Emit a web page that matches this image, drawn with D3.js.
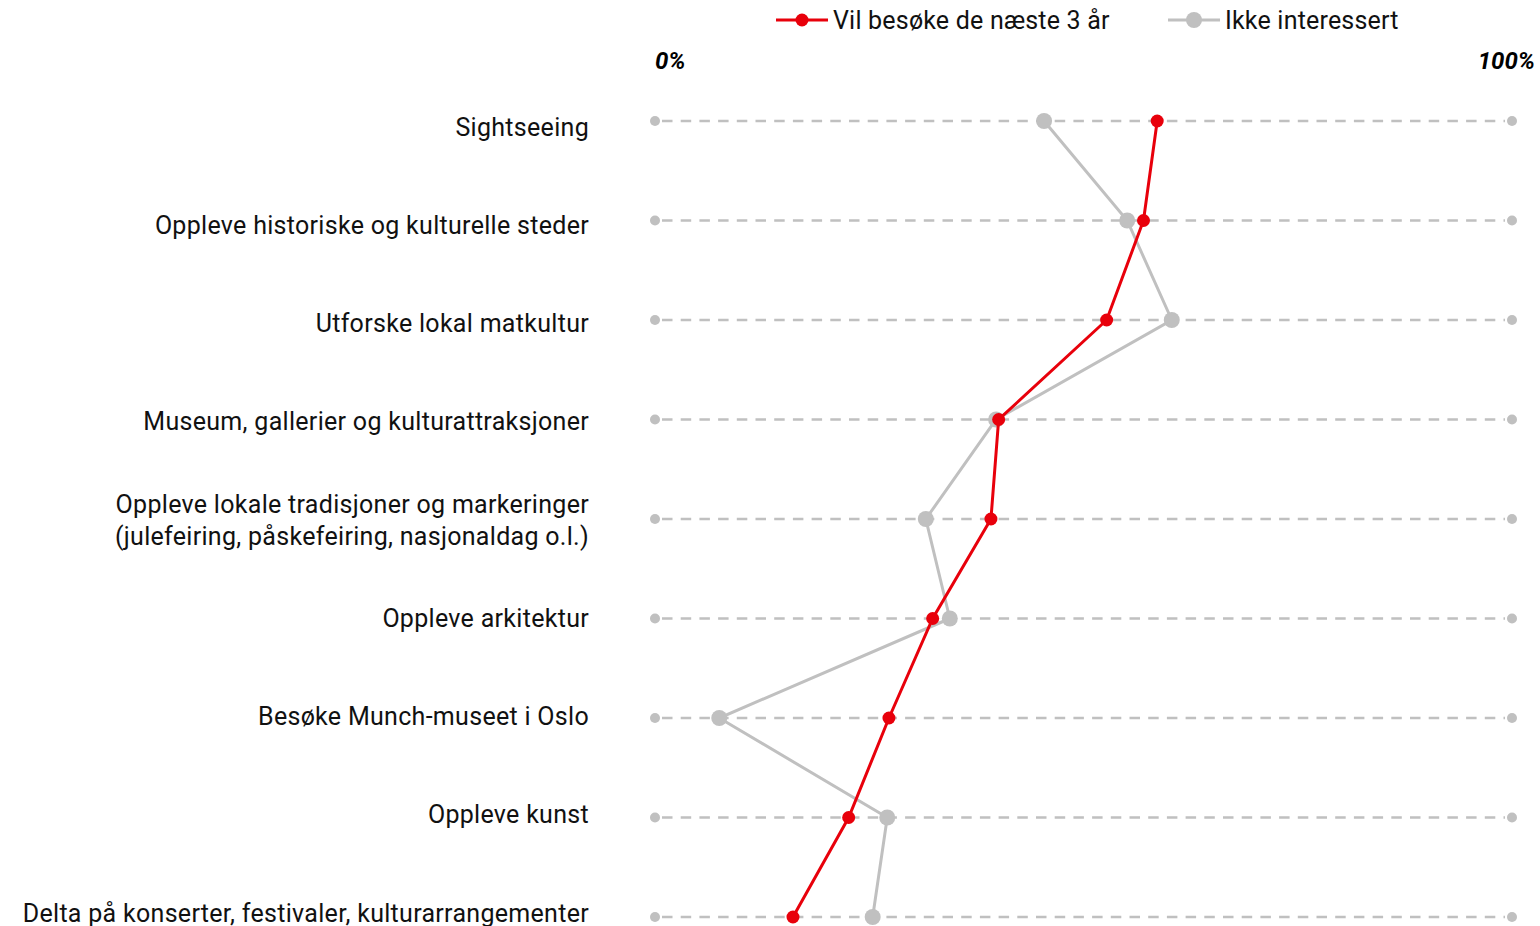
<!DOCTYPE html>
<html>
<head>
<meta charset="utf-8">
<script src="https://cdn.jsdelivr.net/npm/d3@7"></script>
<style>
  body { margin: 0; background: #fff; }
  svg { display: block; font-family: Roboto, "Noto Sans", sans-serif; }
</style>
</head>
<body>
<script>
// activity categories, top to bottom (lines split for wrapping)
var categories = [
  ["Sightseeing"],
  ["Oppleve historiske og kulturelle steder"],
  ["Utforske lokal matkultur"],
  ["Museum, gallerier og kulturattraksjoner"],
  ["Oppleve lokale tradisjoner og markeringer", "(julefeiring, påskefeiring, nasjonaldag o.l.)"],
  ["Oppleve arkitektur"],
  ["Besøke Munch-museet i Oslo"],
  ["Oppleve kunst"],
  ["Delta på konserter, festivaler, kulturarrangementer"]
];
// percent values
var visitNext3 = [58.6, 57.0, 52.7, 40.1, 39.2, 32.4, 27.3, 22.6, 16.1];
var notInterested = [45.4, 55.1, 60.3, 39.8, 31.6, 34.4, 7.5, 27.1, 25.4];
var seriesNames = ["Vil besøke de næste 3 år", "Ikke interessert"];
var tickLabels = ["0%", "100%"];

var W = 1540, H = 926;
var RED = "#e8000b", GREY = "#c0c0c0";

var svg = d3.select("body").append("svg")
  .attr("width", W).attr("height", H);

var x = d3.scaleLinear().domain([0, 100]).range([655, 1512]);
var y = d3.scalePoint()
  .domain(d3.range(categories.length))
  .range([121, 917]);
// labels sit on a slightly tighter spacing than the rows
var yLabel = d3.scalePoint()
  .domain(d3.range(categories.length))
  .range([135.5, 921.5]);

// dashed row guides
var rows = svg.append("g");
rows.selectAll("line").data(categories).enter().append("line")
  .attr("x1", x(0) + 7).attr("x2", x(100) - 7)
  .attr("y1", function(d, i) { return y(i); })
  .attr("y2", function(d, i) { return y(i); })
  .attr("stroke", GREY).attr("stroke-width", 2.5)
  .attr("stroke-dasharray", "10.5,8.2");
[0, 100].forEach(function(v) {
  rows.selectAll(null).data(categories).enter().append("circle")
    .attr("cx", x(v)).attr("cy", function(d, i) { return y(i); })
    .attr("r", 5).attr("fill", GREY);
});

// axis end labels
svg.selectAll(".tick-lbl").data(tickLabels).enter().append("text")
  .attr("class", "tick-lbl")
  .attr("x", function(d, i) { return i == 0 ? x(0) : x(100) + 23; })
  .attr("y", 68.5)
  .attr("text-anchor", function(d, i) { return i == 0 ? "start" : "end"; })
  .style("font-size", "24px").style("font-weight", "bold").style("font-style", "italic")
  .attr("fill", "#000")
  .text(function(d) { return d; });

// category labels
var lbl = svg.append("g").selectAll("text").data(categories).enter().append("text")
  .attr("text-anchor", "end")
  .attr("fill", "#111")
  .style("font-size", "25px")
  .style("letter-spacing", "0.3px");
lbl.each(function(d, i) {
  var t = d3.select(this);
  var n = d.length;
  d.forEach(function(line, k) {
    t.append("tspan")
      .attr("x", 589)
      .attr("y", yLabel(i) + (k - (n - 1) / 2) * 32)
      .text(line);
  });
});

var line = d3.line()
  .x(function(d) { return x(d); })
  .y(function(d, i) { return y(i); });

// grey drawn first, red on top
var series = [
  { values: notInterested, color: GREY, r: 8 },
  { values: visitNext3, color: RED, r: 6.5 }
];
series.forEach(function(s) {
  svg.append("path")
    .datum(s.values)
    .attr("d", line)
    .attr("fill", "none")
    .attr("stroke", s.color)
    .attr("stroke-width", 3);
  svg.append("g").selectAll("circle").data(s.values).enter().append("circle")
    .attr("cx", function(d) { return x(d); })
    .attr("cy", function(d, i) { return y(i); })
    .attr("r", s.r)
    .attr("fill", s.color);
});

// legend
var legX = [776, 1168];
var leg = svg.append("g").selectAll("g").data(seriesNames).enter().append("g")
  .attr("transform", function(d, i) { return "translate(" + legX[i] + ",20)"; });
leg.append("line")
  .attr("x1", 0).attr("x2", 52).attr("y1", 0).attr("y2", 0)
  .attr("stroke", function(d, i) { return i == 0 ? RED : GREY; })
  .attr("stroke-width", 3);
leg.append("circle")
  .attr("cx", 26).attr("cy", 0)
  .attr("r", function(d, i) { return i == 0 ? 6.5 : 8; })
  .attr("fill", function(d, i) { return i == 0 ? RED : GREY; });
leg.append("text")
  .attr("x", 57).attr("y", 9)
  .style("font-size", "25px")
  .style("letter-spacing", "0.2px")
  .attr("fill", "#111")
  .text(function(d) { return d; });
</script>
</body>
</html>
